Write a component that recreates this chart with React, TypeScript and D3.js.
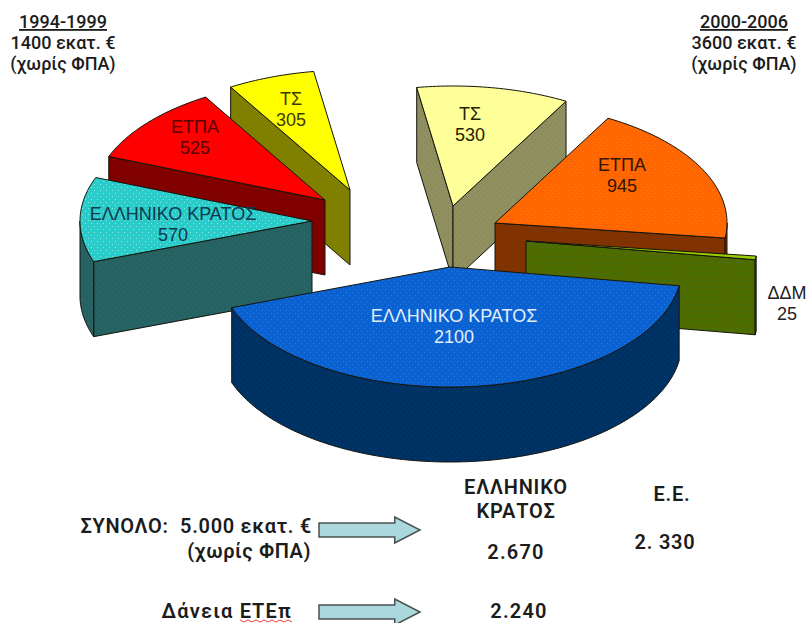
import React from 'react';
import * as d3 from 'd3';

// Programme-period allocations, million euro (excluding VAT)
const labels2000 = ['ΤΣ', 'ΕΤΠΑ', 'ΔΔΜ', 'ΕΛΛΗΝΙΚΟ ΚΡΑΤΟΣ'];
const values2000 = [530, 945, 25, 2100];
const labels1994 = ['ΕΛΛΗΝΙΚΟ ΚΡΑΤΟΣ', 'ΕΤΠΑ', 'ΤΣ'];
const values1994 = [570, 525, 305];

const WIDTH = 808;
const HEIGHT = 623;
const RX = 232;
const RY = 120;
const DEPTH = 75;
const deg = Math.PI / 180;

// Exploded apex of each wedge, in pie order
const apexes: [number, number][] = [
  [453, 206], [495, 223], [526, 241], [450, 267],
  [312, 221], [325, 200], [350, 190],
];

type Skin = { top: string; dot: string | null; side: string; sideDot: string | null; text: string };
const skins: Skin[] = [
  { top: '#ffff99', dot: null, side: '#8f8f60', sideDot: '#7c8654', text: '#222200' },
  { top: '#ff6600', dot: '#ff7a20', side: '#803300', sideDot: null, text: '#331400' },
  { top: '#99cc00', dot: null, side: '#4f6b00', sideDot: '#2f8020', text: '#222222' },
  { top: '#0a62d2', dot: '#2f7ade', side: '#003163', sideDot: '#083e78', text: '#e4eefb' },
  { top: '#2accca', dot: '#8fe6e2', side: '#266262', sideDot: '#2c6e72', text: '#0c3a4c' },
  { top: '#ff0000', dot: null, side: '#800000', sideDot: null, text: '#5a0000' },
  { top: '#ffff00', dot: null, side: '#808000', sideDot: null, text: '#3c3c00' },
];

// Draw order, back to front
const paintOrder = [6, 5, 4, 0, 1, 2, 3];

const labelSpots: { x: number; y: number }[] = [
  { x: 470, y: 120 }, { x: 622, y: 171 }, { x: 787, y: 299 }, { x: 454, y: 322 },
  { x: 173, y: 220 }, { x: 195, y: 133 }, { x: 291, y: 105 },
];

const allValues = [...values2000, ...values1994];
const allLabels = [...labels2000, ...labels1994];

const wedges = d3
  .pie<number>()
  .sort(null)
  .startAngle(-9 * deg)
  .endAngle(351 * deg)(allValues);

const outline = d3.line<[number, number]>();

function rim(apex: [number, number], angle: number, drop = 0): [number, number] {
  return [apex[0] + RX * Math.sin(angle), apex[1] - RY * Math.cos(angle) + drop];
}

function arcPoints(apex: [number, number], a0: number, a1: number, drop = 0): [number, number][] {
  const steps = Math.max(2, Math.ceil((a1 - a0) / deg));
  return d3.range(steps + 1).map((i) => rim(apex, a0 + ((a1 - a0) * i) / steps, drop));
}

function radialFace(apex: [number, number], angle: number): string {
  const low: [number, number] = [apex[0], apex[1] + DEPTH];
  return outline([apex, rim(apex, angle), rim(apex, angle, DEPTH), low])! + 'Z';
}

function outerWall(apex: [number, number], a0: number, a1: number): string | null {
  // Only the part of the rim turned toward the viewer (90° to 270°) shows
  const from = Math.max(a0, 90 * deg);
  const to = Math.min(a1, 270 * deg);
  if (to <= from) return null;
  return outline([...arcPoints(apex, from, to), ...arcPoints(apex, from, to, DEPTH).reverse()])! + 'Z';
}

function DotPattern({ id, base, dot }: { id: string; base: string; dot: string | null }) {
  return (
    <pattern id={id} width={6} height={6} patternUnits="userSpaceOnUse">
      <rect width={6} height={6} fill={base} />
      {dot && <rect x={1} y={1} width={1} height={1} fill={dot} />}
      {dot && <rect x={4} y={4} width={1} height={1} fill={dot} />}
    </pattern>
  );
}

function Wedge({ index }: { index: number }) {
  const w = wedges[index];
  const apex = apexes[index];
  const a0 = w.startAngle;
  const a1 = w.endAngle;
  const topPath = outline([apex, ...arcPoints(apex, a0, a1)])! + 'Z';
  const wall = outerWall(apex, a0, a1);
  const sideFill = `url(#side-${index})`;
  return (
    <g stroke="#14140c" strokeWidth={1} strokeLinejoin="round">
      {Math.sin(a0) < 0 && <path d={radialFace(apex, a0)} fill={sideFill} />}
      {Math.sin(a1) > 0 && <path d={radialFace(apex, a1)} fill={sideFill} />}
      {wall && <path d={wall} fill={sideFill} />}
      <path d={topPath} fill={`url(#top-${index})`} />
    </g>
  );
}

function BlockArrow({ y }: { y: number }) {
  const x = d3.scaleLinear().domain([0, 1]).range([319, 420]);
  const pts: [number, number][] = [
    [x(0), y - 7], [x(0.75), y - 7], [x(0.75), y - 13], [x(1), y],
    [x(0.75), y + 13], [x(0.75), y + 7], [x(0), y + 7],
  ];
  return <path d={outline(pts)! + 'Z'} fill="#aad8dc" stroke="#4a5050" strokeWidth={1.5} />;
}

const headFont = 'Roboto, "Noto Sans", sans-serif';
const labelFont = '"Liberation Sans", Arial, sans-serif';

function Heading({ x, lines }: { x: number; lines: string[] }) {
  return (
    <g fontFamily={headFont} fontWeight={500} fontSize={18} fill="#1c1c1c" textAnchor="middle">
      <text x={x} y={28} textDecoration="underline">{lines[0]}</text>
      <text x={x} y={49}>{lines[1]}</text>
      <text x={x} y={70}>{lines[2]}</text>
    </g>
  );
}

export default function App() {
  return (
    <svg
      width={WIDTH}
      height={HEIGHT}
      viewBox={`0 0 ${WIDTH} ${HEIGHT}`}
      style={{ position: 'absolute', left: 0, top: 0, background: '#ffffff' }}
    >
      <defs>
        {skins.map((s, i) => (
          <React.Fragment key={i}>
            <DotPattern id={`top-${i}`} base={s.top} dot={s.dot} />
            <DotPattern id={`side-${i}`} base={s.side} dot={s.sideDot} />
          </React.Fragment>
        ))}
      </defs>

      {paintOrder.map((i) => (
        <Wedge key={i} index={i} />
      ))}

      <g fontFamily={labelFont} fontSize={18} textAnchor="middle">
        {allLabels.map((name, i) => (
          <text key={i} fill={skins[i].text}>
            <tspan x={labelSpots[i].x} y={labelSpots[i].y}>{name}</tspan>
            <tspan x={labelSpots[i].x} y={labelSpots[i].y + 21}>{allValues[i]}</tspan>
          </text>
        ))}
      </g>

      <Heading x={63} lines={['1994-1999', '1400 εκατ. €', '(χωρίς ΦΠΑ)']} />
      <Heading x={744} lines={['2000-2006', '3600 εκατ. €', '(χωρίς ΦΠΑ)']} />

      <BlockArrow y={530} />
      <BlockArrow y={612} />

      <g fontFamily={headFont} fontWeight={600} fontSize={20} fill="#1c1c1c">
        <text x={312} y={533} textAnchor="end" letterSpacing={0.7}>{'ΣΥΝΟΛΟ:\u00a0\u00a05.000 εκατ. €'}</text>
        <text x={311} y={558} textAnchor="end" letterSpacing={0.6}>(χωρίς ΦΠΑ)</text>
        <text x={292} y={618} textAnchor="end" letterSpacing={1.2}>Δάνεια ΕΤΕπ</text>
        <text x={516} y={494} textAnchor="middle" letterSpacing={0.8}>ΕΛΛΗΝΙΚΟ</text>
        <text x={516} y={518} textAnchor="middle" letterSpacing={0.8}>ΚΡΑΤΟΣ</text>
        <text x={516} y={559} textAnchor="middle" letterSpacing={1.2}>2.670</text>
        <text x={519} y={618} textAnchor="middle" letterSpacing={1.2}>2.240</text>
        <text x={672} y={501} textAnchor="middle" letterSpacing={0.8}>Ε.Ε.</text>
        <text x={665} y={549} textAnchor="middle" letterSpacing={0.8}>{'2.\u00a0330'}</text>
      </g>

      <path
        d={outline(d3.range(0, 14).map((i) => [240 + i * 4, i % 2 ? 622 : 620] as [number, number]))!}
        fill="none"
        stroke="#e04040"
        strokeWidth={1}
      />
    </svg>
  );
}
